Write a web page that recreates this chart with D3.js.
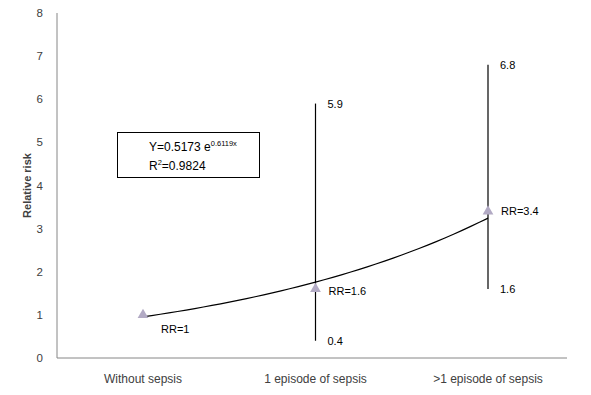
<!DOCTYPE html>
<html><head><meta charset="utf-8">
<script src="https://cdn.jsdelivr.net/npm/d3@7"></script>
<style>body{margin:0;background:#fff}</style>
</head><body>
<svg id="c" width="591" height="395"></svg>
<script>
const categories = ["Without sepsis", "1 episode of sepsis", ">1 episode of sepsis"];
const rr = [1, 1.6, 3.4];
const ciLow = [null, 0.4, 1.6];
const ciHigh = [null, 5.9, 6.8];
const yTicks = [0,1,2,3,4,5,6,7,8];
const fitA = 0.5173, fitB = 0.6119;

const svg = d3.select("#c");
const font = "Liberation Sans, Arial, sans-serif";
const x = d3.scalePoint().domain(categories).range([143, 488]);
const y = d3.scaleLinear().domain([0, 8]).range([358, 13]);

// axes lines
svg.append("line").attr("x1",57).attr("x2",57).attr("y1",y(8)).attr("y2",y(0)).attr("stroke","#868686");
svg.append("line").attr("x1",57).attr("x2",567).attr("y1",y(0)).attr("y2",y(0)).attr("stroke","#868686");

// y tick labels
svg.selectAll(".yt").data(yTicks).enter().append("text")
  .attr("x",43).attr("y",d=>y(d)+4).attr("text-anchor","end")
  .attr("font-family",font).attr("font-size",11.5).attr("fill","#404040").text(d=>d);

// x labels
svg.selectAll(".xt").data(categories).enter().append("text")
  .attr("x",d=>x(d)).attr("y",383).attr("text-anchor","middle")
  .attr("font-family",font).attr("font-size",12).attr("fill","#404040").text(d=>d);

// y title
svg.append("text").attr("transform",`translate(31,${y(4)}) rotate(-90)`)
  .attr("text-anchor","middle").attr("font-family",font).attr("font-size",11)
  .attr("font-weight","bold").attr("fill","#404040").text("Relative risk");

// error bars
categories.forEach((c,i)=>{
  if(ciLow[i]==null) return;
  svg.append("line").attr("x1",x(c)).attr("x2",x(c)).attr("y1",y(ciHigh[i])).attr("y2",y(ciLow[i]))
    .attr("stroke","#000").attr("stroke-width",1.2);
  svg.append("text").attr("x",x(c)+12).attr("y",y(ciHigh[i])+4).attr("font-family",font).attr("font-size",11).attr("fill","#000").text(ciHigh[i].toFixed(1));
  svg.append("text").attr("x",x(c)+12).attr("y",y(ciLow[i])+4).attr("font-family",font).attr("font-size",11).attr("fill","#000").text(ciLow[i].toFixed(1));
});

// trend curve
const pts = d3.range(0, 2.0001, 0.05).map(t=>{
  const xi = 1 + t;
  const px = x(categories[0]) + t*(x(categories[1])-x(categories[0]));
  return [px, y(fitA*Math.exp(fitB*xi))];
});
svg.append("path").attr("d", d3.line().curve(d3.curveBasis)(pts)).attr("fill","none").attr("stroke","#000").attr("stroke-width",1.2);

// triangles
svg.selectAll(".tri").data(rr).enter().append("path")
  .attr("d", d3.symbol().type(d3.symbolTriangle).size(50))
  .attr("transform",(d,i)=>`translate(${x(categories[i])},${y(d)})`)
  .attr("fill","#b2aac4");

// RR labels
const rrOff = [[18,18],[13,6],[13,4]];
rr.forEach((v,i)=>{
  svg.append("text").attr("x",x(categories[i])+rrOff[i][0]).attr("y",y(v)+rrOff[i][1])
    .attr("font-family",font).attr("font-size",11).attr("fill","#000").text("RR="+v);
});

// equation box
svg.append("rect").attr("x",117.5).attr("y",132.5).attr("width",142).attr("height",45).attr("fill","#fff").attr("stroke","#000");
const t1 = svg.append("text").attr("x",149).attr("y",151).attr("font-family",font).attr("font-size",12).attr("fill","#000");
t1.append("tspan").text("Y=0.5173 e");
t1.append("tspan").attr("font-size",7.5).attr("dy",-5).text("0.6119x");
const t2 = svg.append("text").attr("x",149).attr("y",170).attr("font-family",font).attr("font-size",12).attr("fill","#000");
t2.append("tspan").text("R");
t2.append("tspan").attr("font-size",7.5).attr("dy",-5).text("2");
t2.append("tspan").attr("dy",5).text("=0.9824");
</script>
</body></html>
